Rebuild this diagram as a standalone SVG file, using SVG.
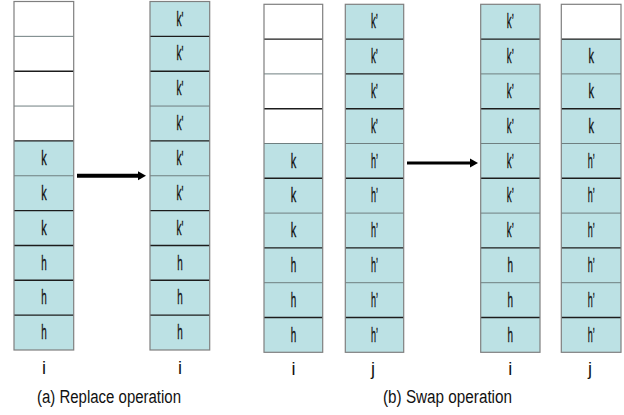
<svg xmlns="http://www.w3.org/2000/svg" width="624" height="415" viewBox="0 0 624 415">
  <defs>
    <style>
      .bg { fill: #ffffff; }
      .full { fill: #bce1e4; }
      .empty { fill: #ffffff; }
      .frame { fill: none; stroke: #7f7f7f; stroke-width: 1.2; }
      .dk { stroke: #1c1c1c; stroke-width: 1.4; }
      .lt { stroke: #6f7f80; stroke-width: 1; }
      .cell { font-family: "Liberation Sans", Arial, sans-serif; font-size: 20.5px; fill: #111111; stroke: #111111; stroke-width: 0.35; text-anchor: middle; }
      .idx { font-family: "Liberation Sans", Arial, sans-serif; font-size: 18px; fill: #111111; text-anchor: middle; }
      .cap { font-family: "Liberation Sans", Arial, sans-serif; font-size: 18px; fill: #111111; }
      .arrow { stroke: #000000; fill: none; }
    </style>
    <marker id="head" markerUnits="userSpaceOnUse" markerWidth="10" markerHeight="10" viewBox="0 0 10 10" refX="2" refY="5" orient="auto">
      <path d="M0,0.5 L8,5 L0,9.5 Z" fill="#000000"/>
    </marker>
  </defs>

  <rect class="bg" x="0" y="0" width="624" height="415"/>

  <!-- (a) column i before replace -->
  <g id="replace-before">
    <rect class="empty" x="14" y="1.5" width="59.7" height="139.4"/>
    <rect class="full" x="14" y="140.9" width="59.7" height="209.1"/>
    <line class="lt" x1="14" y1="36.35" x2="73.7" y2="36.35"/>
    <line class="dk" x1="14" y1="71.2" x2="73.7" y2="71.2"/>
    <line class="lt" x1="14" y1="106.05" x2="73.7" y2="106.05"/>
    <line class="dk" x1="14" y1="140.9" x2="73.7" y2="140.9"/>
    <line class="lt" x1="14" y1="175.75" x2="73.7" y2="175.75"/>
    <line class="dk" x1="14" y1="210.6" x2="73.7" y2="210.6"/>
    <line class="dk" x1="14" y1="245.45" x2="73.7" y2="245.45"/>
    <line class="dk" x1="14" y1="280.3" x2="73.7" y2="280.3"/>
    <line class="dk" x1="14" y1="315.15" x2="73.7" y2="315.15"/>
    <rect class="frame" x="14" y="1.5" width="59.7" height="348.5"/>
    <text class="cell" x="44" y="165" textLength="5.5" lengthAdjust="spacingAndGlyphs">k</text>
    <text class="cell" x="44" y="199.8" textLength="5.5" lengthAdjust="spacingAndGlyphs">k</text>
    <text class="cell" x="44" y="234.7" textLength="5.5" lengthAdjust="spacingAndGlyphs">k</text>
    <text class="cell" x="44" y="269.5" textLength="5.5" lengthAdjust="spacingAndGlyphs">h</text>
    <text class="cell" x="44" y="304.4" textLength="5.5" lengthAdjust="spacingAndGlyphs">h</text>
    <text class="cell" x="44" y="339.2" textLength="5.5" lengthAdjust="spacingAndGlyphs">h</text>
    <text class="idx" x="44" y="374">i</text>
  </g>

  <!-- (a) column i after replace -->
  <g id="replace-after">
    <rect class="full" x="150" y="1.5" width="59.7" height="348.5"/>
    <line class="dk" x1="150" y1="36.35" x2="209.7" y2="36.35"/>
    <line class="dk" x1="150" y1="71.2" x2="209.7" y2="71.2"/>
    <line class="lt" x1="150" y1="106.05" x2="209.7" y2="106.05"/>
    <line class="dk" x1="150" y1="140.9" x2="209.7" y2="140.9"/>
    <line class="lt" x1="150" y1="175.75" x2="209.7" y2="175.75"/>
    <line class="dk" x1="150" y1="210.6" x2="209.7" y2="210.6"/>
    <line class="dk" x1="150" y1="245.45" x2="209.7" y2="245.45"/>
    <line class="dk" x1="150" y1="280.3" x2="209.7" y2="280.3"/>
    <line class="dk" x1="150" y1="315.15" x2="209.7" y2="315.15"/>
    <rect class="frame" x="150" y="1.5" width="59.7" height="348.5"/>
    <text class="cell" x="180" y="25.5" textLength="7" lengthAdjust="spacingAndGlyphs">k'</text>
    <text class="cell" x="180" y="60.3" textLength="7" lengthAdjust="spacingAndGlyphs">k'</text>
    <text class="cell" x="180" y="95.2" textLength="7" lengthAdjust="spacingAndGlyphs">k'</text>
    <text class="cell" x="180" y="130" textLength="7" lengthAdjust="spacingAndGlyphs">k'</text>
    <text class="cell" x="180" y="165" textLength="7" lengthAdjust="spacingAndGlyphs">k'</text>
    <text class="cell" x="180" y="199.8" textLength="7" lengthAdjust="spacingAndGlyphs">k'</text>
    <text class="cell" x="180" y="234.7" textLength="7" lengthAdjust="spacingAndGlyphs">k'</text>
    <text class="cell" x="180" y="269.5" textLength="5.5" lengthAdjust="spacingAndGlyphs">h</text>
    <text class="cell" x="180" y="304.4" textLength="5.5" lengthAdjust="spacingAndGlyphs">h</text>
    <text class="cell" x="180" y="339.2" textLength="5.5" lengthAdjust="spacingAndGlyphs">h</text>
    <text class="idx" x="180" y="374">i</text>
  </g>

  <!-- (b) column i before swap -->
  <g id="swap-before-i">
    <rect class="empty" x="264" y="4.3" width="58.7" height="139.2"/>
    <rect class="full" x="264" y="143.5" width="58.7" height="208.8"/>
    <line class="dk" x1="264" y1="39.1" x2="322.7" y2="39.1"/>
    <line class="lt" x1="264" y1="73.9" x2="322.7" y2="73.9"/>
    <line class="dk" x1="264" y1="108.7" x2="322.7" y2="108.7"/>
    <line class="lt" x1="264" y1="143.5" x2="322.7" y2="143.5"/>
    <line class="dk" x1="264" y1="178.3" x2="322.7" y2="178.3"/>
    <line class="lt" x1="264" y1="213.1" x2="322.7" y2="213.1"/>
    <line class="dk" x1="264" y1="247.9" x2="322.7" y2="247.9"/>
    <line class="lt" x1="264" y1="282.7" x2="322.7" y2="282.7"/>
    <line class="dk" x1="264" y1="317.5" x2="322.7" y2="317.5"/>
    <rect class="frame" x="264" y="4.3" width="58.7" height="348"/>
    <text class="cell" x="293.4" y="167.5" textLength="5.5" lengthAdjust="spacingAndGlyphs">k</text>
    <text class="cell" x="293.4" y="202.3" textLength="5.5" lengthAdjust="spacingAndGlyphs">k</text>
    <text class="cell" x="293.4" y="237.1" textLength="5.5" lengthAdjust="spacingAndGlyphs">k</text>
    <text class="cell" x="293.4" y="271.9" textLength="5.5" lengthAdjust="spacingAndGlyphs">h</text>
    <text class="cell" x="293.4" y="306.7" textLength="5.5" lengthAdjust="spacingAndGlyphs">h</text>
    <text class="cell" x="293.4" y="341.5" textLength="5.5" lengthAdjust="spacingAndGlyphs">h</text>
    <text class="idx" x="293.4" y="375">i</text>
  </g>

  <!-- (b) column j before swap -->
  <g id="swap-before-j">
    <rect class="full" x="345.3" y="4.3" width="58.4" height="348"/>
    <line class="dk" x1="345.3" y1="39.1" x2="403.7" y2="39.1"/>
    <line class="dk" x1="345.3" y1="73.9" x2="403.7" y2="73.9"/>
    <line class="dk" x1="345.3" y1="108.7" x2="403.7" y2="108.7"/>
    <line class="lt" x1="345.3" y1="143.5" x2="403.7" y2="143.5"/>
    <line class="dk" x1="345.3" y1="178.3" x2="403.7" y2="178.3"/>
    <line class="lt" x1="345.3" y1="213.1" x2="403.7" y2="213.1"/>
    <line class="dk" x1="345.3" y1="247.9" x2="403.7" y2="247.9"/>
    <line class="lt" x1="345.3" y1="282.7" x2="403.7" y2="282.7"/>
    <line class="dk" x1="345.3" y1="317.5" x2="403.7" y2="317.5"/>
    <rect class="frame" x="345.3" y="4.3" width="58.4" height="348"/>
    <text class="cell" x="374.5" y="28.3" textLength="7" lengthAdjust="spacingAndGlyphs">k’</text>
    <text class="cell" x="374.5" y="63.1" textLength="7" lengthAdjust="spacingAndGlyphs">k’</text>
    <text class="cell" x="374.5" y="97.9" textLength="7" lengthAdjust="spacingAndGlyphs">k’</text>
    <text class="cell" x="374.5" y="132.7" textLength="7" lengthAdjust="spacingAndGlyphs">k’</text>
    <text class="cell" x="374.5" y="167.5" textLength="7" lengthAdjust="spacingAndGlyphs">h’</text>
    <text class="cell" x="374.5" y="202.3" textLength="7" lengthAdjust="spacingAndGlyphs">h’</text>
    <text class="cell" x="374.5" y="237.1" textLength="7" lengthAdjust="spacingAndGlyphs">h’</text>
    <text class="cell" x="374.5" y="271.9" textLength="7" lengthAdjust="spacingAndGlyphs">h’</text>
    <text class="cell" x="374.5" y="306.7" textLength="7" lengthAdjust="spacingAndGlyphs">h’</text>
    <text class="cell" x="374.5" y="341.5" textLength="7" lengthAdjust="spacingAndGlyphs">h’</text>
    <text class="idx" x="373" y="375">j</text>
  </g>

  <!-- (b) column i after swap -->
  <g id="swap-after-i">
    <rect class="full" x="480.7" y="4.3" width="59.3" height="348"/>
    <line class="dk" x1="480.7" y1="39.1" x2="540" y2="39.1"/>
    <line class="lt" x1="480.7" y1="73.9" x2="540" y2="73.9"/>
    <line class="dk" x1="480.7" y1="108.7" x2="540" y2="108.7"/>
    <line class="lt" x1="480.7" y1="143.5" x2="540" y2="143.5"/>
    <line class="dk" x1="480.7" y1="178.3" x2="540" y2="178.3"/>
    <line class="lt" x1="480.7" y1="213.1" x2="540" y2="213.1"/>
    <line class="dk" x1="480.7" y1="247.9" x2="540" y2="247.9"/>
    <line class="lt" x1="480.7" y1="282.7" x2="540" y2="282.7"/>
    <line class="dk" x1="480.7" y1="317.5" x2="540" y2="317.5"/>
    <rect class="frame" x="480.7" y="4.3" width="59.3" height="348"/>
    <text class="cell" x="510.3" y="28.3" textLength="7" lengthAdjust="spacingAndGlyphs">k’</text>
    <text class="cell" x="510.3" y="63.1" textLength="7" lengthAdjust="spacingAndGlyphs">k’</text>
    <text class="cell" x="510.3" y="97.9" textLength="7" lengthAdjust="spacingAndGlyphs">k’</text>
    <text class="cell" x="510.3" y="132.7" textLength="7" lengthAdjust="spacingAndGlyphs">k’</text>
    <text class="cell" x="510.3" y="167.5" textLength="7" lengthAdjust="spacingAndGlyphs">k’</text>
    <text class="cell" x="510.3" y="202.3" textLength="7" lengthAdjust="spacingAndGlyphs">k’</text>
    <text class="cell" x="510.3" y="237.1" textLength="7" lengthAdjust="spacingAndGlyphs">k’</text>
    <text class="cell" x="510.3" y="271.9" textLength="5.5" lengthAdjust="spacingAndGlyphs">h</text>
    <text class="cell" x="510.3" y="306.7" textLength="5.5" lengthAdjust="spacingAndGlyphs">h</text>
    <text class="cell" x="510.3" y="341.5" textLength="5.5" lengthAdjust="spacingAndGlyphs">h</text>
    <text class="idx" x="510.3" y="375">i</text>
  </g>

  <!-- (b) column j after swap -->
  <g id="swap-after-j">
    <rect class="empty" x="561.3" y="4.3" width="59.7" height="34.8"/>
    <rect class="full" x="561.3" y="39.1" width="59.7" height="313.2"/>
    <line class="dk" x1="561.3" y1="39.1" x2="621" y2="39.1"/>
    <line class="lt" x1="561.3" y1="73.9" x2="621" y2="73.9"/>
    <line class="dk" x1="561.3" y1="108.7" x2="621" y2="108.7"/>
    <line class="lt" x1="561.3" y1="143.5" x2="621" y2="143.5"/>
    <line class="dk" x1="561.3" y1="178.3" x2="621" y2="178.3"/>
    <line class="lt" x1="561.3" y1="213.1" x2="621" y2="213.1"/>
    <line class="dk" x1="561.3" y1="247.9" x2="621" y2="247.9"/>
    <line class="lt" x1="561.3" y1="282.7" x2="621" y2="282.7"/>
    <line class="dk" x1="561.3" y1="317.5" x2="621" y2="317.5"/>
    <rect class="frame" x="561.3" y="4.3" width="59.7" height="348"/>
    <text class="cell" x="591.2" y="63.1" textLength="5.5" lengthAdjust="spacingAndGlyphs">k</text>
    <text class="cell" x="591.2" y="97.9" textLength="5.5" lengthAdjust="spacingAndGlyphs">k</text>
    <text class="cell" x="591.2" y="132.7" textLength="5.5" lengthAdjust="spacingAndGlyphs">k</text>
    <text class="cell" x="591.2" y="167.5" textLength="7" lengthAdjust="spacingAndGlyphs">h’</text>
    <text class="cell" x="591.2" y="202.3" textLength="7" lengthAdjust="spacingAndGlyphs">h’</text>
    <text class="cell" x="591.2" y="237.1" textLength="7" lengthAdjust="spacingAndGlyphs">h’</text>
    <text class="cell" x="591.2" y="271.9" textLength="7" lengthAdjust="spacingAndGlyphs">h’</text>
    <text class="cell" x="591.2" y="306.7" textLength="7" lengthAdjust="spacingAndGlyphs">h’</text>
    <text class="cell" x="591.2" y="341.5" textLength="7" lengthAdjust="spacingAndGlyphs">h’</text>
    <text class="idx" x="590" y="375">j</text>
  </g>

  <!-- operation arrows -->
  <g id="connectors">
    <line class="arrow" x1="77" y1="175.8" x2="140" y2="175.8" stroke-width="4" marker-end="url(#head)"/>
    <line class="arrow" x1="407" y1="163" x2="472" y2="163" stroke-width="3" marker-end="url(#head)"/>
  </g>

  <!-- captions -->
  <text class="cap" x="37" y="403" textLength="144" lengthAdjust="spacingAndGlyphs">(a) Replace operation</text>
  <text class="cap" x="383" y="403" textLength="129" lengthAdjust="spacingAndGlyphs">(b) Swap operation</text>
</svg>
